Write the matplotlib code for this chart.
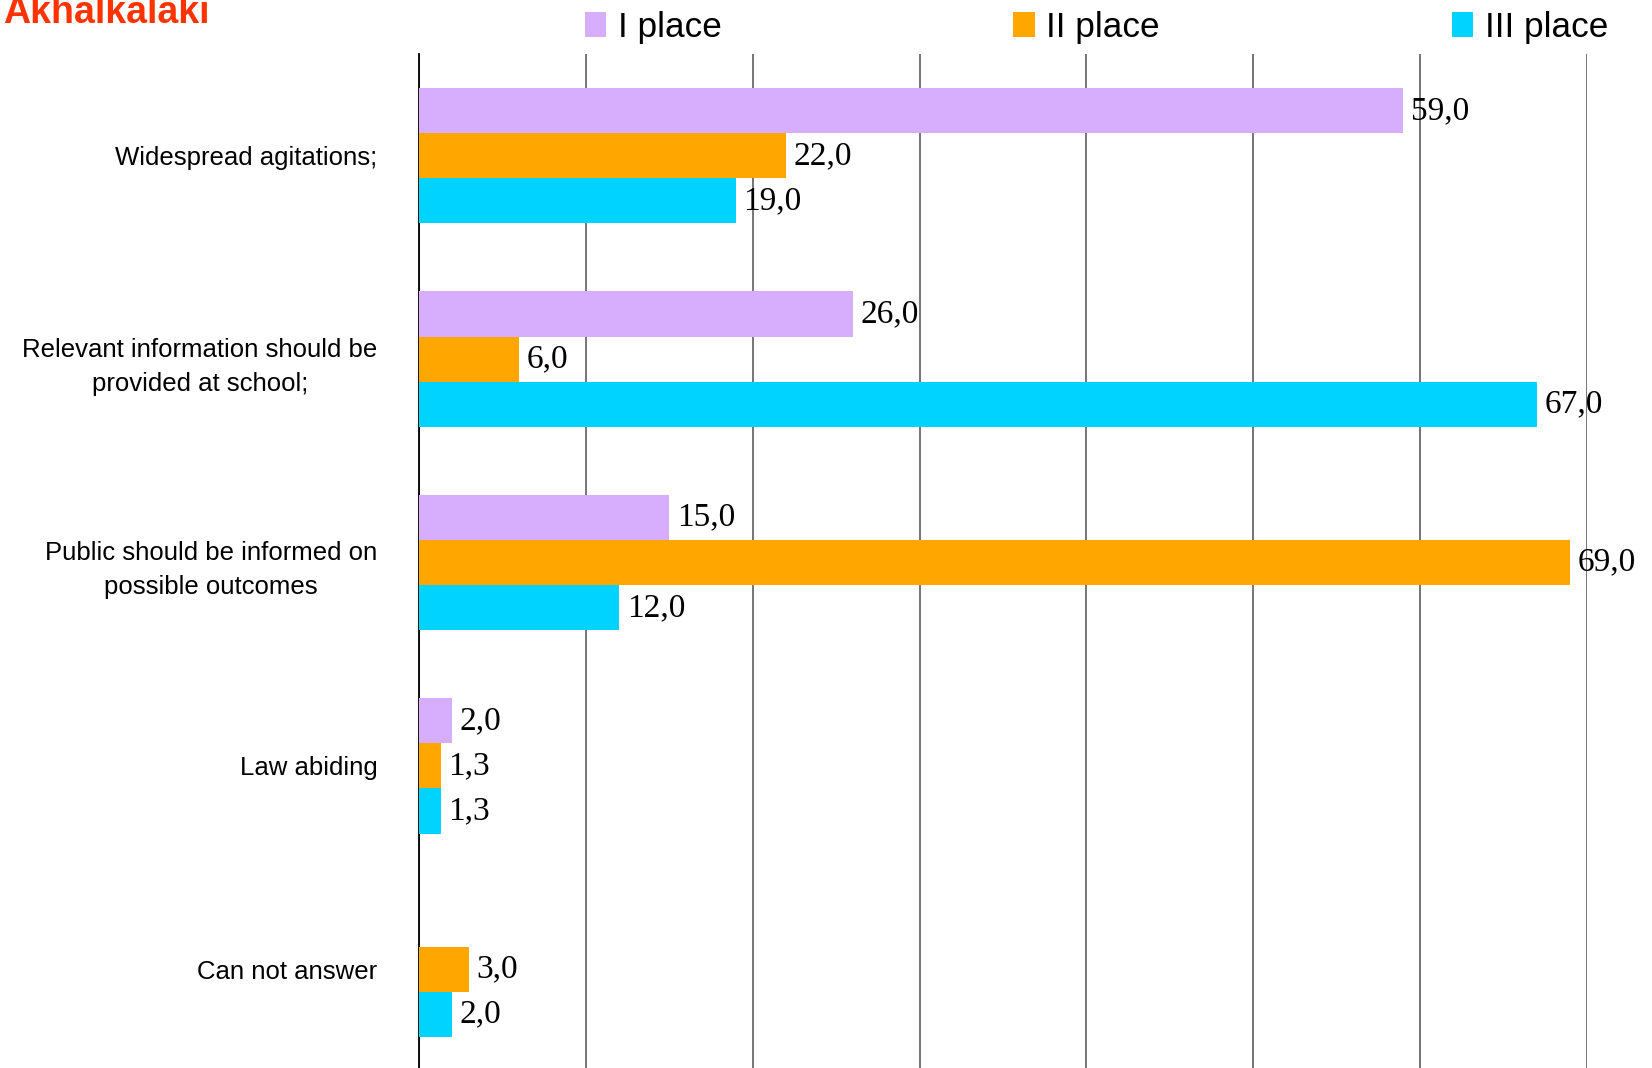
import matplotlib.pyplot as plt
import numpy as np

# Akhalkalaki - ranking of answers (%)
categories = [
    "Widespread agitations;",
    "Relevant information should be\nprovided at school;",
    "Public should be informed on\npossible outcomes",
    "Law abiding",
    "Can not answer",
]
series_names = ["I place", "II place", "III place"]
first_place = [59.0, 26.0, 15.0, 2.0, 0.0]
second_place = [22.0, 6.0, 69.0, 1.3, 3.0]
third_place = [19.0, 67.0, 12.0, 1.3, 2.0]
colors = ["#D7ADFE", "#FFA600", "#00D3FF"]

fig = plt.figure(figsize=(16.52, 10.68), dpi=100)
ax = fig.add_axes([419 / 1652, -3 / 1068, (1587 - 419) / 1652, 1 - 51 / 1068])

y = np.arange(len(categories))
h = 0.222
series = [first_place, second_place, third_place]
for i, (vals, name, c) in enumerate(zip(series, series_names, colors)):
    pos = y + (i - 1) * h
    ax.barh(pos, vals, height=h, color=c, label=name, zorder=3)
    for p, v in zip(pos, vals):
        if v > 0:
            ax.text(v + 0.45, p, f"{v:.1f}".replace(".", ","), va="center",
                    ha="left", fontsize=24, family="Liberation Serif", zorder=4)

ax.set_xlim(0, 70)
ax.set_ylim(len(categories) - 0.5, -0.5)
ax.set_xticks(np.arange(0, 71, 10))
ax.xaxis.set_ticklabels([])
ax.tick_params(axis="x", length=0)
ax.grid(axis="x", color="#505050", lw=1.1, zorder=0)
ax.set_axisbelow(True)
for s in ["top", "right", "bottom"]:
    ax.spines[s].set_visible(False)
ax.spines["left"].set_color("black")
ax.spines["left"].set_linewidth(1.3)

ax.set_yticks(y)
ax.set_yticklabels(categories, fontsize=18.5, family="Liberation Sans",
                   multialignment="center", linespacing=1.55)
ax.tick_params(axis="y", length=0, pad=30)

fig.text(3 / 1652, 1 - 23 / 1068, "Akhalkalaki", color="#FF3300",
         fontsize=27, fontweight="bold", family="Liberation Sans",
         va="baseline", ha="left")

fig.legend(loc="center left", bbox_to_anchor=(585 / 1652, 1 - 27 / 1068),
           ncol=3, frameon=False, borderpad=0, borderaxespad=0,
           handlelength=0.6, handleheight=0.7, handletextpad=0.34,
           columnspacing=8.3, prop={"family": "Liberation Sans", "size": 25.3})

fig.savefig("out.png", dpi=100)
